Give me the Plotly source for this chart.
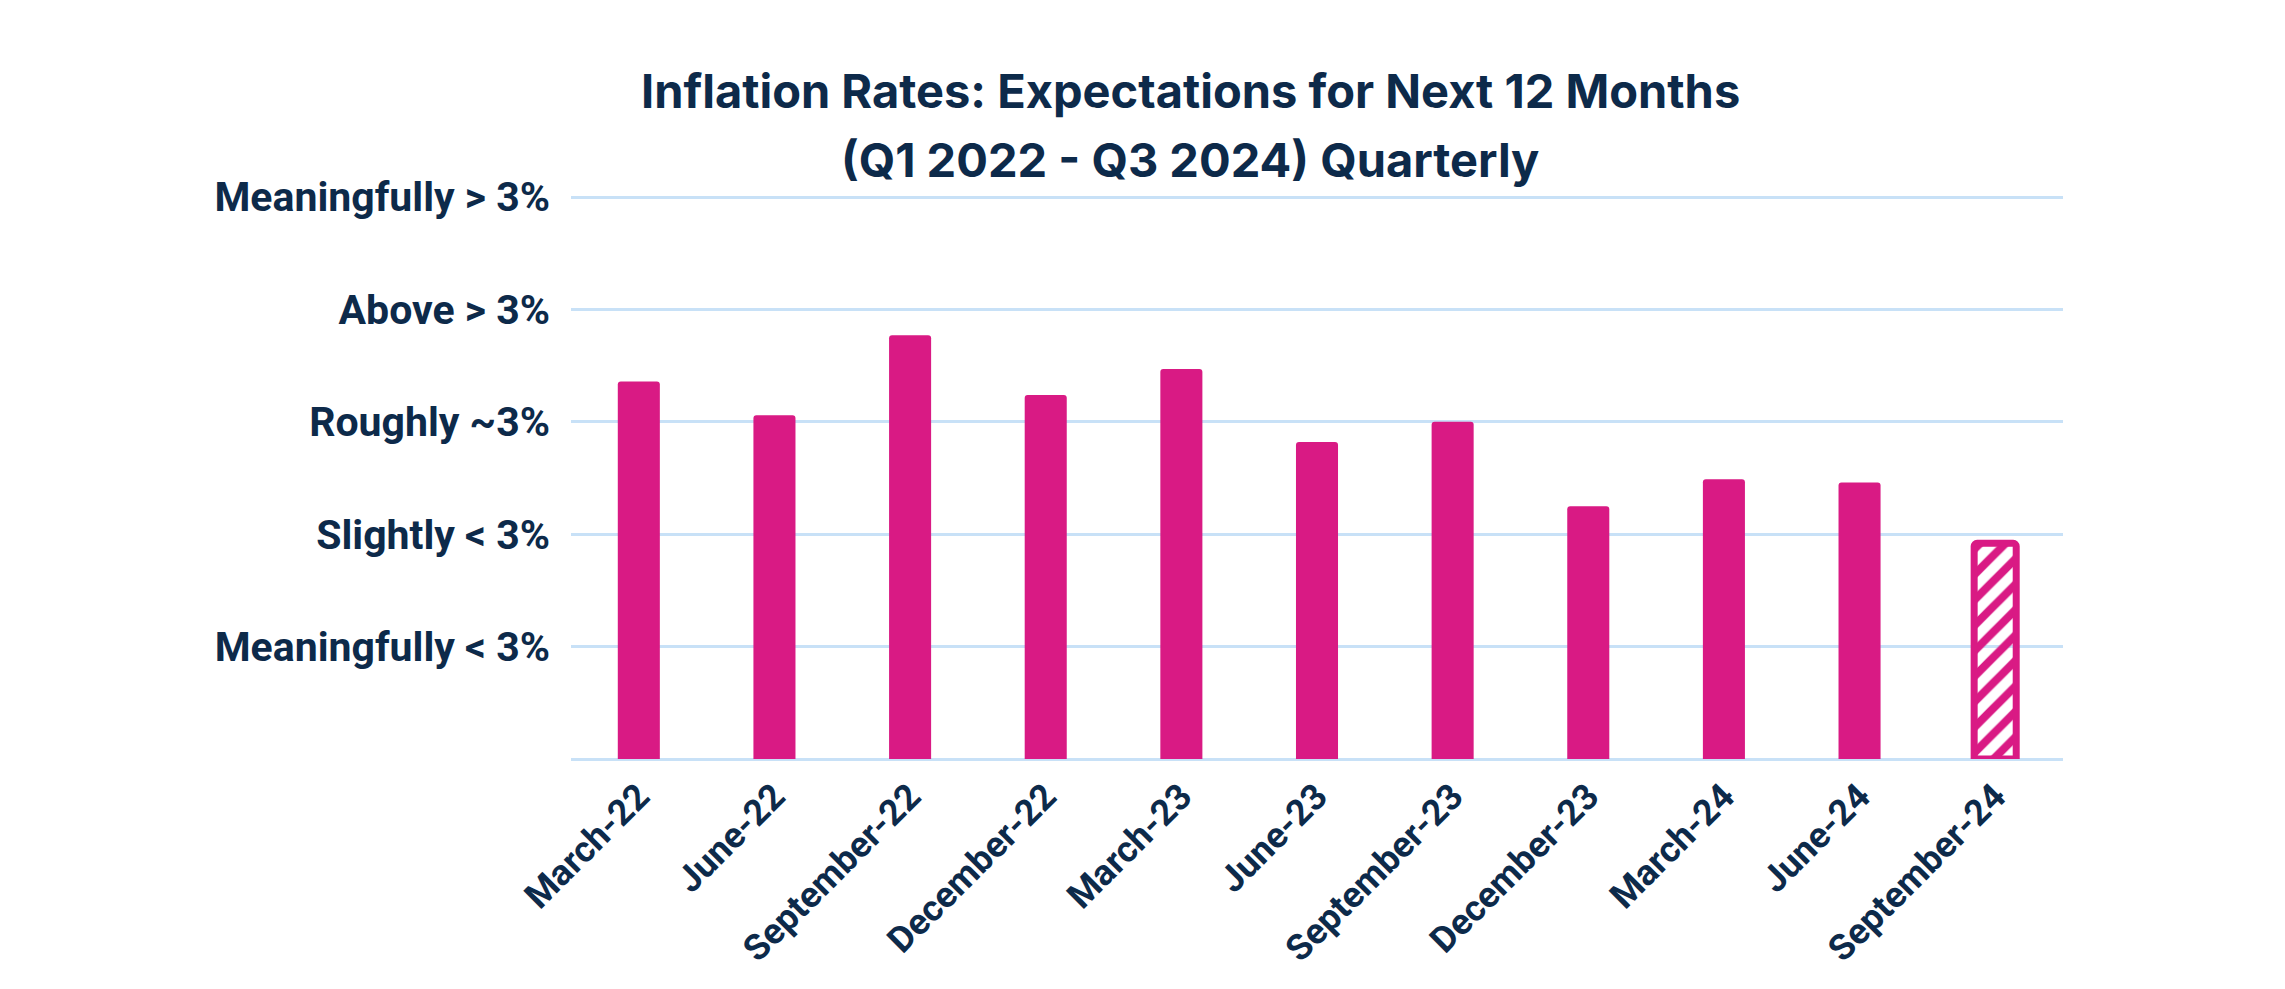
import plotly.graph_objects as go

categories = ["March-22", "June-22", "September-22", "December-22", "March-23", "June-23",
              "September-23", "December-23", "March-24", "June-24", "September-24"]
values = [3.36, 3.06, 3.77, 3.24, 3.47, 2.82, 3.00, 2.25, 2.49, 2.46, 1.92]
projected = [False] * 10 + [True]

tick_vals = [1, 2, 3, 4, 5]
tick_text = ["Meaningfully < 3%", "Slightly < 3%", "Roughly ~3%", "Above > 3%", "Meaningfully > 3%"]

title_lines = ["Inflation Rates: Expectations for Next 12 Months", "(Q1 2022 - Q3 2024) Quarterly"]

MAGENTA = "#D91A84"
NAVY = "#0D2A4A"
GRID = "#C8E1F7"

fig = go.Figure()
fig.add_trace(go.Bar(
    x=categories,
    y=values,
    marker=dict(
        color=[MAGENTA] * len(values),
        line=dict(color=MAGENTA, width=[7 if p else 0 for p in projected]),
        cornerradius=3,
        pattern=dict(
            shape=["/" if p else "" for p in projected],
            fgcolor=MAGENTA,
            bgcolor="white",
            size=18,
            solidity=0.45,
            fillmode="replace",
        ),
    ),
    hoverinfo="x+y",
))

for line, ypix in zip(title_lines, [90, 160]):
    fig.add_annotation(
        text=line, xref="paper", yref="paper",
        x=(1190 - 571) / (2285 - 571 - 222), y=1 + (196 - ypix) / (989 - 196 - 230),
        xanchor="center", yanchor="middle", showarrow=False,
        font=dict(family="Inter", size=47, color=NAVY, weight=700),
    )

fig.update_layout(
    width=2285,
    height=989,
    plot_bgcolor="white",
    paper_bgcolor="white",
    margin=dict(l=571, r=222, t=196, b=230, pad=0),
    bargap=0.69,
    showlegend=False,
    xaxis=dict(
        tickangle=-45,
        tickfont=dict(family="Roboto", size=36, color=NAVY, weight=700),
        showgrid=False,
        showline=False,
        ticks="",
        ticklabelstandoff=8,
    ),
    yaxis=dict(
        range=[0, 5.01],
        tickvals=tick_vals,
        ticktext=tick_text,
        tickfont=dict(family="Roboto", size=41, color=NAVY, weight=700),
        showgrid=True,
        gridcolor=GRID,
        gridwidth=3,
        zeroline=True,
        zerolinecolor=GRID,
        zerolinewidth=3,
        showline=False,
        ticks="",
        ticklabelstandoff=20,
    ),
)

fig.write_html("out.html", config={"displayModeBar": False},
               post_script="document.body.style.margin='0';")
